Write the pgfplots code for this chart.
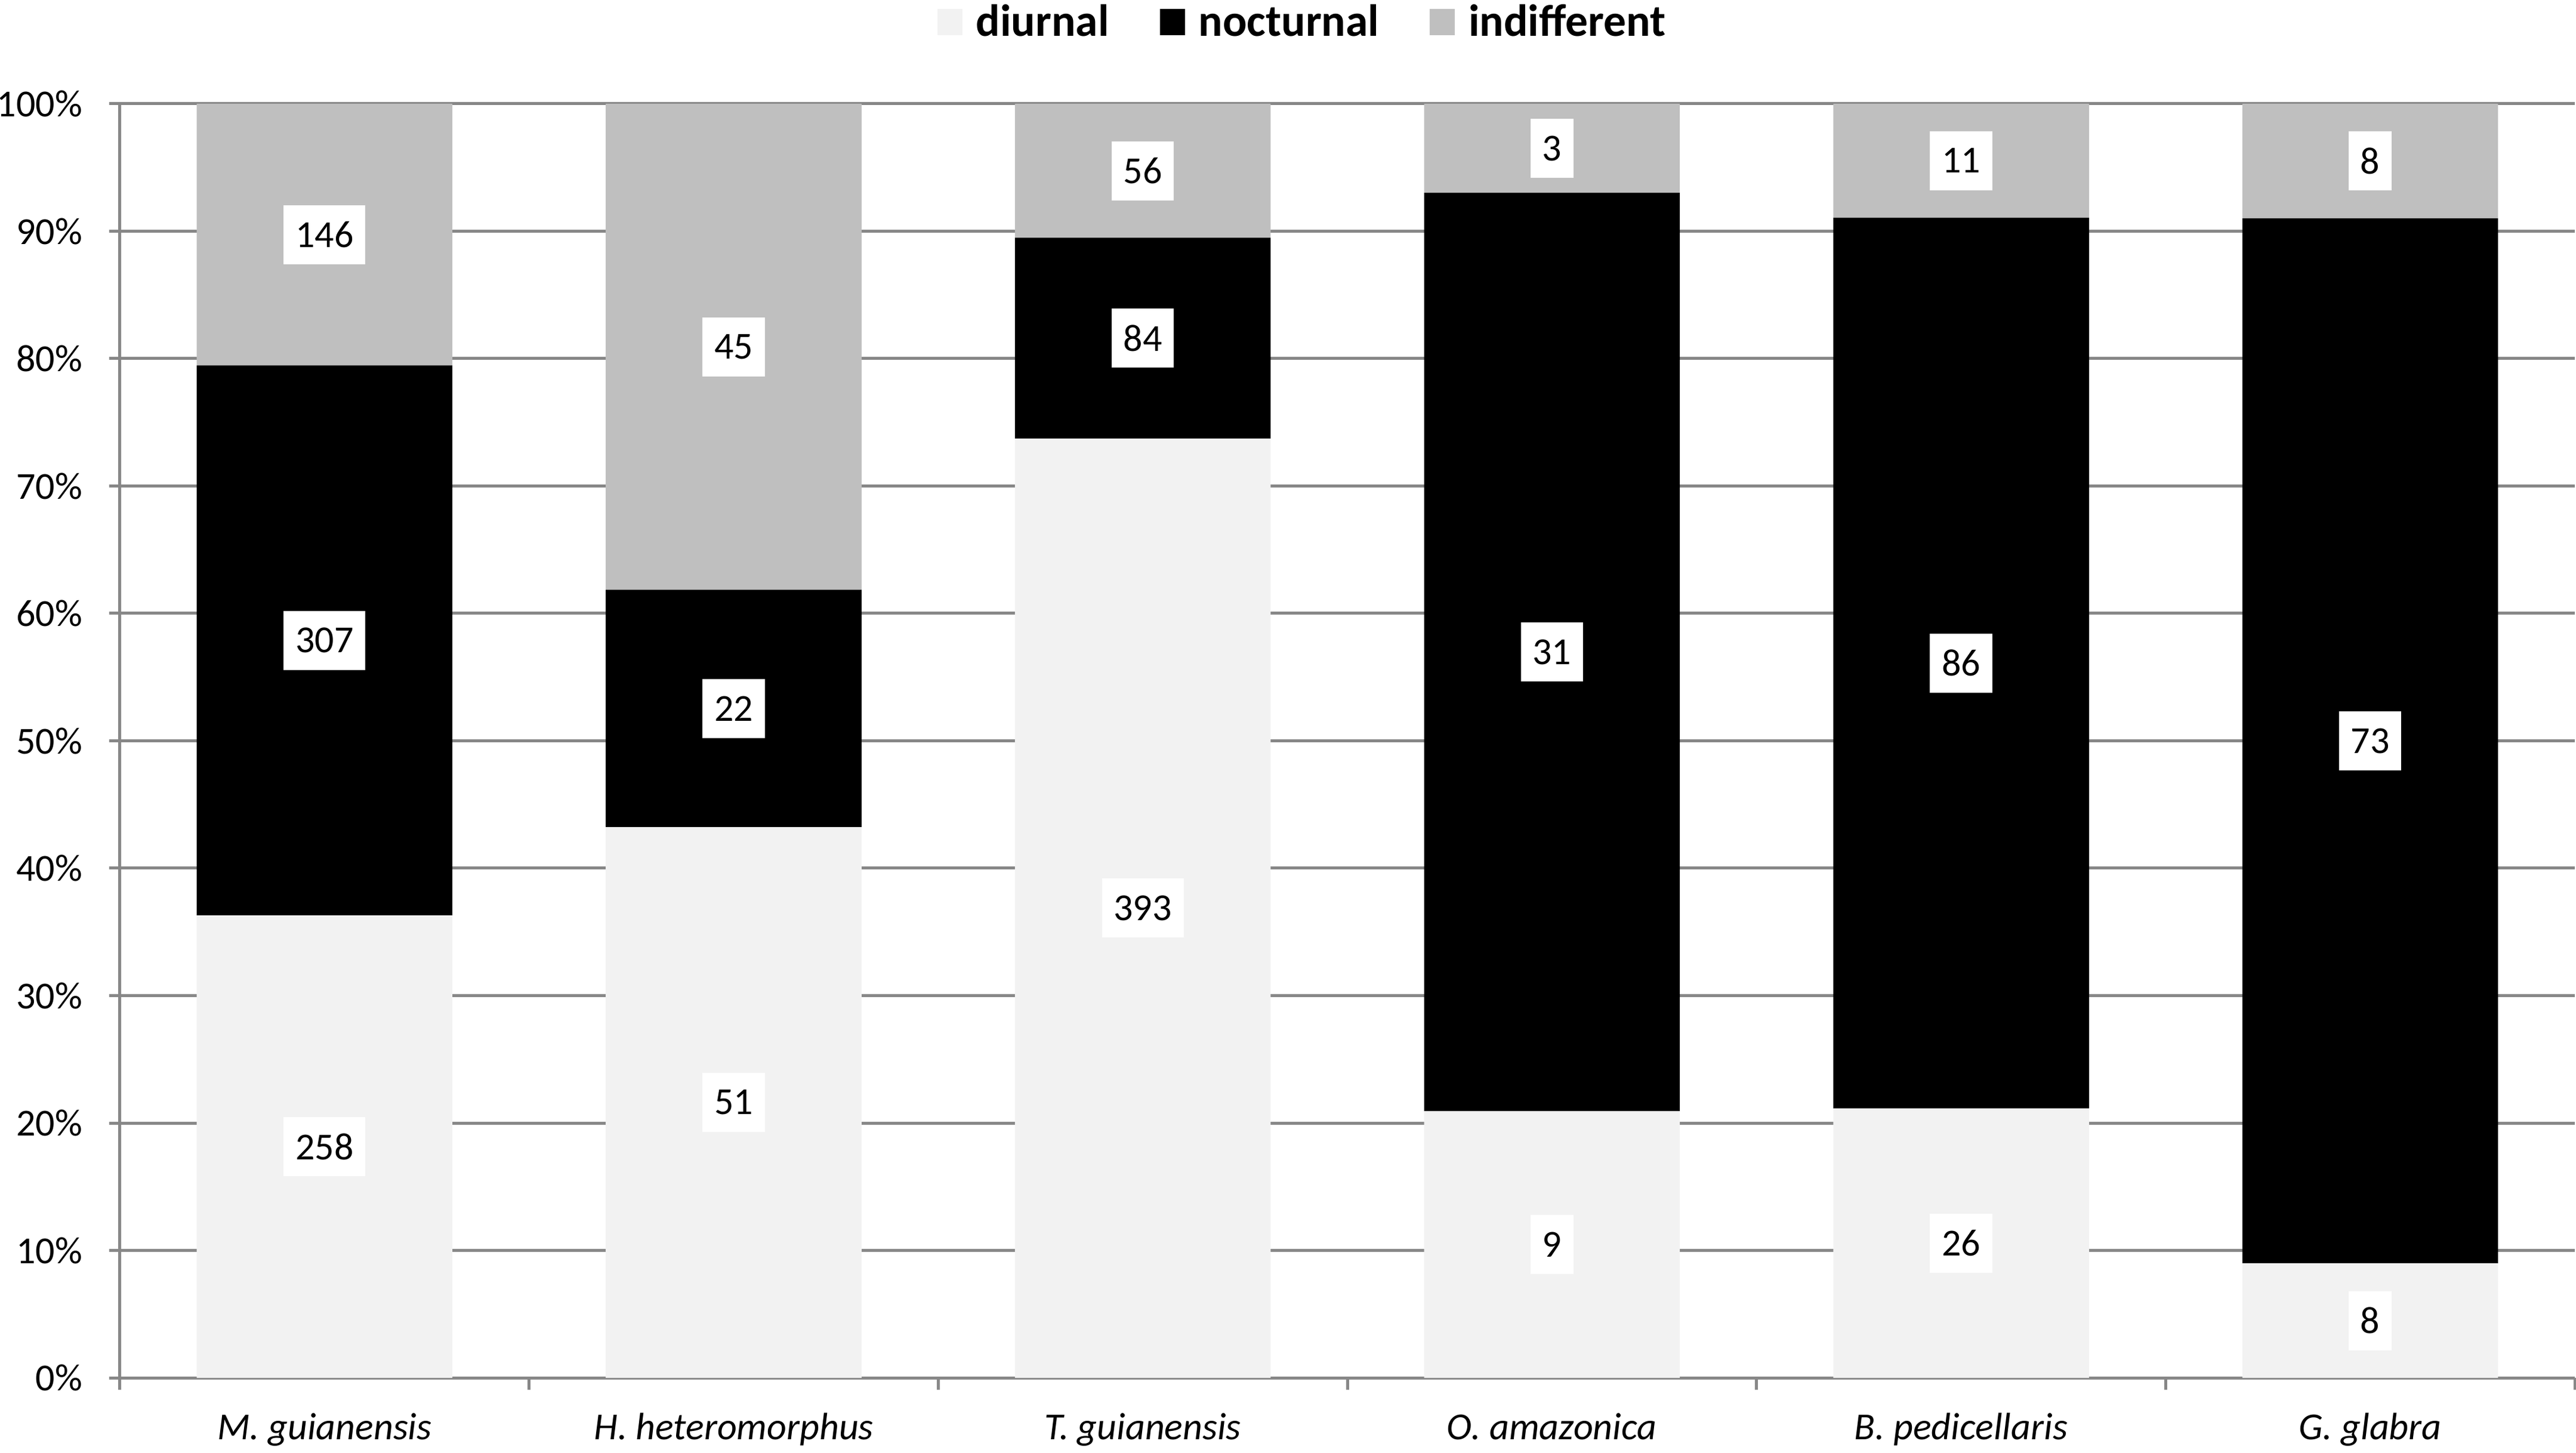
\documentclass[border=0pt]{standalone}
\usepackage{pgfplots}
\pgfplotsset{compat=1.18}
\usepackage{pgfplotstable}
\usepackage{fontspec}
\setmainfont{Carlito}
\definecolor{diur}{HTML}{F2F2F2}
\definecolor{indif}{HTML}{BFBFBF}
\definecolor{gridc}{HTML}{878787}

% percentages of each category (stacked to 100%)
\pgfplotstableread{
x d n i
0 36.29 43.18 20.53
1 43.22 18.64 38.14
2 73.73 15.76 10.51
3 20.93 72.09 6.98
4 21.14 69.92 8.94
5 8.99 82.02 8.99
}\pct

% label positions (middle of each segment) and counts
\pgfplotstableread{
x dm nm im dc nc ic
0 18.14 57.88 89.73 258 307 146
1 21.61 52.54 80.93 51 22 45
2 36.87 81.61 94.75 393 84 56
3 10.47 56.98 96.51 9 31 3
4 10.57 56.10 95.53 26 86 11
5 4.49 50.00 95.51 8 73 8
}\lab

\pgfplotsset{
  base/.style={scale only axis, width=822.8pt, height=427pt,
    xmin=-0.5, xmax=5.5, ymin=0, ymax=100, at={(0,0)}, anchor=south west},
  lbl/.style={draw=none, mark=none, nodes near coords, point meta=explicit symbolic,
    every node near coord/.append style={anchor=center, fill=white, text=black,
      inner xsep=3.95pt, inner ysep=0pt, minimum height=19.8pt,
      font=\fontsize{12.8}{15}\selectfont}},
  sq/.style={legend image code/.code={\fill[##1] (0pt,-4.4pt) rectangle (8.4pt,4.4pt);}},
}

\begin{document}
\begin{tikzpicture}
\useasboundingbox (-40.2pt,-25pt) rectangle (823.2pt,461.8pt);
\begin{axis}[base,
  ybar stacked, bar width=0.625,
  axis lines*=left,
  axis line style={-, draw=gridc, line width=1pt},
  ymajorgrids, grid style={draw=gridc, line width=1pt},
  tick align=outside,
  major tick length=3.6pt, minor tick length=4pt,
  ytick={0,10,...,100},
  yticklabels={0\%,10\%,20\%,30\%,40\%,50\%,60\%,70\%,80\%,90\%,100\%},
  ytick style={draw=gridc, line width=1pt},
  xtick={0,...,5},
  xticklabels={M. guianensis,H. heteromorphus,T. guianensis,O. amazonica,B. pedicellaris,G. glabra},
  major x tick style={draw=none},
  minor xtick={-0.5,0.5,...,5.5},
  minor x tick style={draw=gridc, line width=1pt},
  yticklabel style={font=\fontsize{12.8}{15}\selectfont, anchor=east, inner sep=0pt, xshift=-8.8pt},
  xticklabel style={font=\fontsize{12.8}{15}\selectfont\itshape, anchor=base, inner sep=0pt, yshift=-17pt},
  legend columns=3,
  legend style={at={(0.4813,1.064)}, anchor=center, draw=none, fill=none, inner sep=0pt,
    font=\bfseries\fontsize{15.1}{18}\selectfont,
    nodes={inner sep=0pt},
    /tikz/every odd column/.append style={column sep=4.6pt},
    /tikz/every even column/.append style={column sep=17pt}},
]
\addplot[fill=diur, draw=none, sq] table[x=x,y=d]{\pct};
\addplot[fill=black, draw=none, sq] table[x=x,y=n]{\pct};
\addplot[fill=indif, draw=none, sq] table[x=x,y=i]{\pct};
\legend{diurnal,nocturnal,indifferent}
\end{axis}
\begin{axis}[base, hide axis]
\addplot[lbl] table[x=x,y=dm,meta=dc]{\lab};
\addplot[lbl] table[x=x,y=nm,meta=nc]{\lab};
\addplot[lbl] table[x=x,y=im,meta=ic]{\lab};
\end{axis}
\end{tikzpicture}
\end{document}
